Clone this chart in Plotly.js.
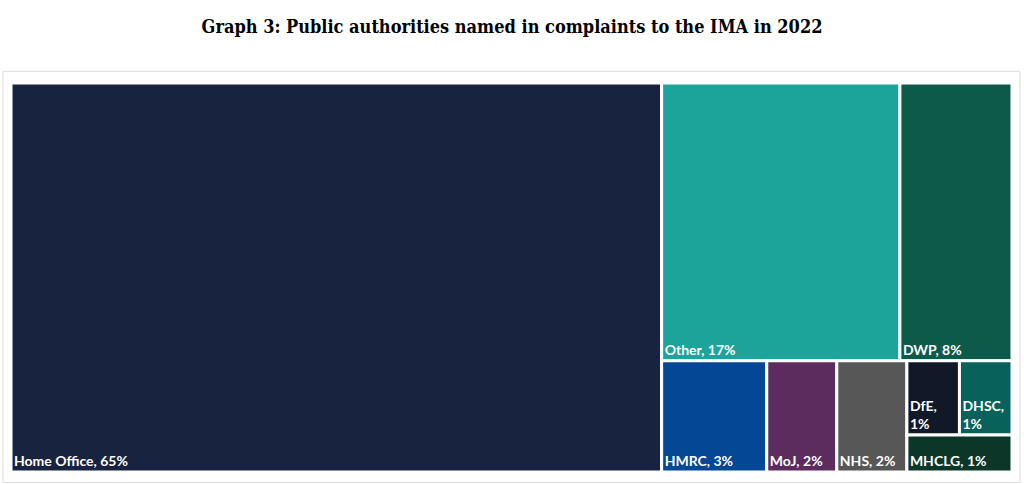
<!DOCTYPE html>
<html>
<head>
<meta charset="utf-8">
<script src="https://cdn.plot.ly/plotly-3.0.1.min.js"></script>
<style>html,body{margin:0;padding:0;background:#fff;}#chart{width:1024px;height:484px;}</style>
</head>
<body>
<div id="chart"></div>
<script>
const labels = ["Home Office", "Other", "DWP", "HMRC", "MoJ", "NHS", "DfE", "DHSC", "MHCLG"];
const values = [65, 17, 8, 3, 2, 2, 1, 1, 1];
const colors = ["#18243F", "#1CA39A", "#0D5A4B", "#044795", "#5C2C5E", "#575757", "#111827", "#08615A", "#0B3628"];
const wrapped = ["DfE", "DHSC"];
const titleText = "Graph 3: Public authorities named in complaints to the IMA in 2022";

const text = labels.map((l, i) => wrapped.includes(l) ? l + ",<br>" + values[i] + "%" : l + ", " + values[i] + "%");

const trace = {
  type: "treemap",
  labels: labels,
  parents: labels.map(() => ""),
  values: values,
  text: text,
  textinfo: "text",
  textposition: "bottom left",
  sort: true,
  tiling: {packing: "squarify", squarifyratio: 1.2, pad: 0},
  marker: {colors: colors, line: {color: "#ffffff", width: 3}, pad: {t: 0, l: 0, r: 0, b: 0}},
  pathbar: {visible: false},
  textfont: {family: "Lato, 'Open Sans', sans-serif", size: 14, color: "#ffffff", weight: "bold"},
  hoverinfo: "none",
  domain: {x: [0, 1], y: [0, 1]}
};

const layout = {
  width: 1024, height: 484,
  margin: {l: 11, r: 12, t: 83, b: 12},
  paper_bgcolor: "#ffffff",
  title: {text: "<b>" + titleText + "</b>", x: 0.5, xanchor: "center", y: 0.945, yanchor: "middle",
    font: {family: "'DejaVu Serif Condensed', 'DejaVu Serif', serif", size: 18, color: "#000000"}},
  shapes: [{type: "rect", xref: "paper", yref: "paper", x0: -0.008, x1: 1.008, y0: -0.027, y1: 1.03,
    line: {color: "#dcdcdc", width: 1}, fillcolor: "rgba(0,0,0,0)", layer: "below"}],
  showlegend: false
};

Plotly.newPlot("chart", [trace], layout, {displayModeBar: false, staticPlot: true});
</script>
</body>
</html>
